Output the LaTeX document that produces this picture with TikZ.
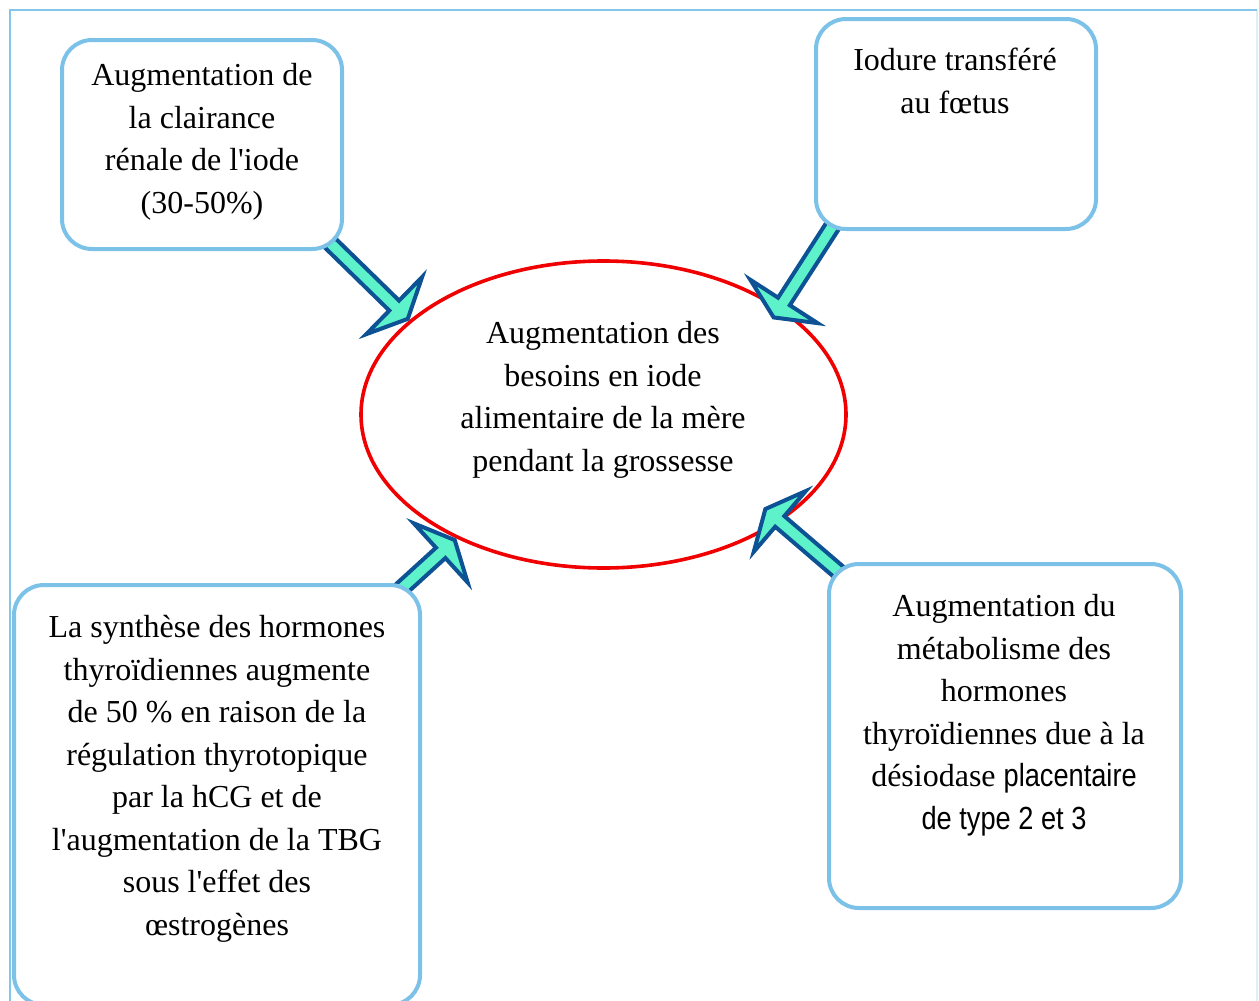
\documentclass[tikz,border=0pt]{standalone}
\usepackage{fontspec}
\setmainfont{Liberation Serif}
\newfontfamily\nsans{Liberation Sans}[FakeStretch=0.85]
\usetikzlibrary{shapes.geometric}
\definecolor{boxblue}{RGB}{124,194,232}
\definecolor{framebl}{RGB}{130,198,234}
\definecolor{framefaint}{RGB}{222,238,248}
\definecolor{arrfill}{RGB}{94,242,203}
\definecolor{arrline}{RGB}{12,82,148}
\definecolor{ellred}{RGB}{240,0,0}
\tikzset{
  box/.style={draw=boxblue, line width=2pt, rounded corners=15pt, fill=white, inner sep=0pt},
  txt/.style={align=center, inner sep=0pt, font=\fontsize{16}{21.25}\selectfont},
  barrow/.style={draw=arrline, fill=arrfill, line width=2pt, line join=miter},
  frame/.style={draw=framebl, line width=1pt},
}
\newcommand\sq{\textquotesingle}
\newcommand\blockarrow[2]{%
  \path (#1); \pgfgetlastxy{\bax}{\bay}%
  \path (#2); \pgfgetlastxy{\bbx}{\bby}%
  \pgfmathsetmacro\baang{atan2(\bby-\bay,\bbx-\bax)}%
  \pgfmathsetmacro\balen{veclen(\bbx-\bax,\bby-\bay)}%
  \pgfmathsetmacro\babase{\balen-11}%
  \pgfmathsetmacro\batip{\balen-1.5}%
  \begin{scope}[shift={(\bax,\bay)},rotate=\baang]
    \draw[barrow] (0pt,-3.5pt) -- (\babase pt,-3.5pt) -- (\babase pt,-20pt)
      -- (\batip pt,0pt) -- (\babase pt,20pt) -- (\babase pt,3.5pt)
      -- (0pt,3.5pt) -- cycle;
  \end{scope}}
\begin{document}
\begin{tikzpicture}[x=0.5pt,y=-0.5pt]
\useasboundingbox (0,0) rectangle (1259,1001);
\draw[framefaint, line width=1pt] (1257,10) -- (1257,1010);
\draw[frame] (1257,10) -- (10,10) -- (10,1010);
% central ellipse
\node[draw=ellred, line width=1.8pt, ellipse, minimum width=242.5pt, minimum height=153.5pt, inner sep=0pt] (ell) at (603.5,414.5) {};
% arrow ends
\coordinate (a1s) at (325,238);   \coordinate (a1t) at (410,321);
\coordinate (a2s) at (835.4,221.6); \coordinate (a2t) at (772,320);
\coordinate (a3s) at (392.6,596.7); \coordinate (a3t) at (457,538);
\coordinate (a4s) at (847.6,579.5); \coordinate (a4t) at (763,507);
\blockarrow{a1s}{a1t}
\blockarrow{a2s}{a2t}
\blockarrow{a3s}{a3t}
\blockarrow{a4s}{a4t}
% boxes
\node[box, minimum width=140pt, minimum height=104.5pt] (b1) at (202,144.5) {};
\node[box, minimum width=140pt, minimum height=105pt] (b2) at (956,124) {};
\node[box, minimum width=203pt, minimum height=210pt] (b3) at (217,795) {};
\node[box, minimum width=176pt, minimum height=172pt] (b4) at (1005,736) {};
% texts
\node[txt] (t1) at (202,142) {Augmentation de\\la clairance\\rénale de l\sq iode\\(30-50\%)};
\node[txt] (t2) at (955,81) {Iodure transféré\\au fœtus};
\node[txt] (t0) at (603,400) {Augmentation des\\besoins en iode\\alimentaire de la mère\\pendant la grossesse};
\node[txt] (t3) at (217,779) {La synthèse des hormones\\thyroïdiennes augmente\\de 50 \% en raison de la\\régulation thyrotopique\\par la hCG et de\\l\sq augmentation de la TBG\\sous l\sq effet des\\œstrogènes};
\node[txt] (t4) at (1004,715) {Augmentation du\\métabolisme des\\hormones\\thyroïdiennes due à la\\désiodase {\nsans placentaire}\\{\nsans de type 2 et 3}};
\end{tikzpicture}
\end{document}
